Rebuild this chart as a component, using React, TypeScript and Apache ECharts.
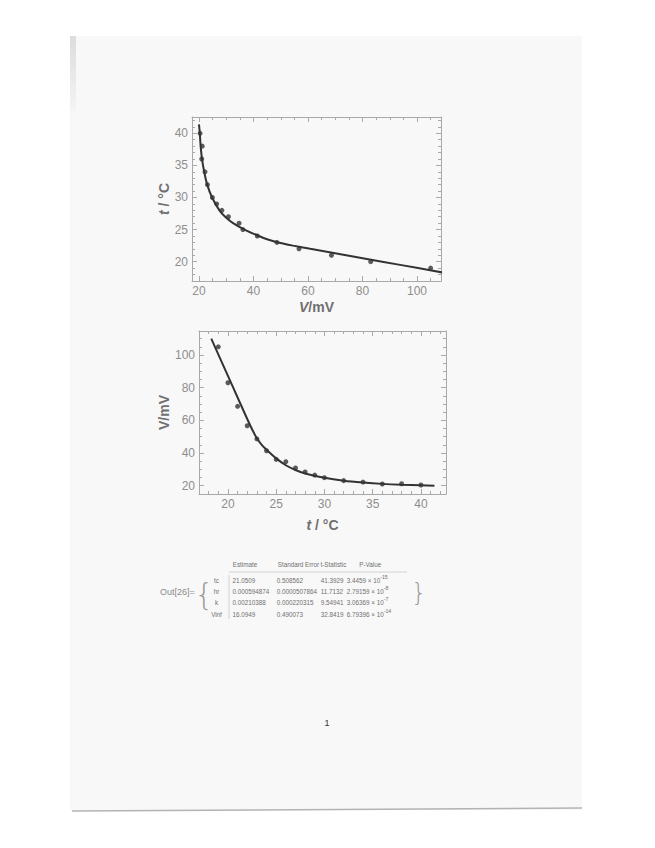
import { useEffect, useRef } from "react";
import * as echarts from "echarts";

// ---- measured data (t in °C, V in mV) ----
const tempC = [19, 20, 21, 22, 23, 24, 25, 26, 27, 28, 29, 30, 32, 34, 36, 38, 40];
const voltMV = [105, 83, 68.6, 56.7, 48.6, 41.4, 36.1, 34.7, 30.8, 28.4, 26.5, 24.9, 23.1, 22.2, 21.0, 21.2, 20.4];

// ---- fitted curve ----
const fitTempC = [18.27, 19, 20, 21, 22, 22.5, 23, 23.5, 24, 25, 26, 27, 28, 30, 32, 34, 36, 38, 40, 41.4];
const fitVoltMV = [110, 100.4, 87.2, 74, 60.8, 54.5, 49, 45, 42, 36.7, 32.5, 29.6, 27.5, 24.8, 23, 21.9, 21.1, 20.6, 20.3, 20.0];

// ---- tick values ----
const p1XMajor = [20, 40, 60, 80, 100];
const p1XMinor = [25, 30, 35, 45, 50, 55, 65, 70, 75, 85, 90, 95, 105];
const p1YMajor = [20, 25, 30, 35, 40];
const p1YMinor = [18, 19, 21, 22, 23, 24, 26, 27, 28, 29, 31, 32, 33, 34, 36, 37, 38, 39, 41, 42];
const p2XMajor = [20, 25, 30, 35, 40];
const p2XMinor = [18, 19, 21, 22, 23, 24, 26, 27, 28, 29, 31, 32, 33, 34, 36, 37, 38, 39, 41, 42];
const p2YMajor = [20, 40, 60, 80, 100];
const p2YMinor = [25, 30, 35, 45, 50, 55, 65, 70, 75, 85, 90, 95, 105, 110];

// ---- fit table ----
const tableHeaders = ["Estimate", "Standard Error", "t-Statistic", "P-Value"];
const tableRows = ["tc", "hr", "k", "Vinf"];
const estimates = ["21.0509", "0.000594874", "0.00210388", "16.0949"];
const stdErrors = ["0.508562", "0.0000507864", "0.000220315", "0.490073"];
const tStats = ["41.3929", "11.7132", "9.54941", "32.8419"];
const pMantissa = ["3.4459", "2.79159", "3.06369", "6.79396"];
const pExponent = ["-15", "-8", "-7", "-14"];

const FONT = "Liberation Sans, Arial, sans-serif";
const FRAME = "#a9a9a9";
const TICKLBL = "#8e8e8e";
const NAMECLR = "#707070";
const INK = "#333333";
const TABLE_INK = "#707070";

function buildAxes(
  kind: "x" | "y",
  gridIndex: number,
  min: number,
  max: number,
  majors: number[],
  minors: number[],
  name: string,
  nameGap: number
) {
  const sides = kind === "x" ? ["bottom", "top"] : ["left", "right"];
  const out: any[] = [];
  sides.forEach((pos, si) => {
    [majors, minors].forEach((vals, mi) => {
      const main = si === 0 && mi === 0;
      out.push({
        type: "value",
        gridIndex,
        min,
        max,
        position: pos,
        axisLine: { show: mi === 0, onZero: false, lineStyle: { color: FRAME, width: 1 } },
        axisTick: {
          show: true,
          inside: true,
          length: mi === 0 ? 5 : 3,
          customValues: vals,
          lineStyle: { color: FRAME, width: 1 },
        },
        axisLabel: main
          ? { show: true, customValues: vals, color: TICKLBL, fontSize: 12, margin: 4, fontFamily: FONT }
          : { show: false },
        splitLine: { show: false },
        name: main ? name : "",
        nameLocation: "middle",
        nameGap,
        nameTextStyle: {
          color: NAMECLR,
          fontSize: 14,
          fontWeight: "bold",
          fontFamily: FONT,
          rich: {
            i: { fontStyle: "italic", fontWeight: "bold", fontSize: 14, color: NAMECLR, fontFamily: FONT },
            n: { fontWeight: "bold", fontSize: 14, color: NAMECLR, fontFamily: FONT },
          },
        },
      });
    });
  });
  return out;
}

export default function App() {
  const ref = useRef<HTMLDivElement>(null);

  useEffect(() => {
    if (!ref.current) return;
    const chart = echarts.init(ref.current, undefined, { renderer: "svg" });

    const xAxes = [
      ...buildAxes("x", 0, 17.43, 108.8, p1XMajor, p1XMinor, "{i|V}{n|/mV}", 19),
      ...buildAxes("x", 1, 17.0, 42.6, p2XMajor, p2XMinor, "{i|t}{n| / °C}", 24),
    ];
    const yAxes = [
      ...buildAxes("y", 0, 16.99, 42.54, p1YMajor, p1YMinor, "{i|t}{n| / °C}", 17),
      ...buildAxes("y", 1, 14.9, 114.7, p2YMajor, p2YMinor, "{n|V/mV}", 27),
    ];

    const rowY = (i: number) => 580 + i * 11.4;
    const colX = [232.5, 276.7, 320.7, 346.7];
    const tableStyle = { fill: TABLE_INK, fontSize: 6.3, fontFamily: FONT };
    const graphics: any[] = [
      // scanned sheet
      { type: "rect", z: -100, shape: { x: 70, y: 36, width: 512, height: 774 }, style: { fill: "#f8f8f8" }, silent: true },
      {
        type: "rect",
        z: -99,
        shape: { x: 70, y: 36, width: 6, height: 75 },
        style: {
          fill: new echarts.graphic.LinearGradient(0, 0, 0, 1, [
            { offset: 0, color: "#dcdcdc" },
            { offset: 1, color: "#f4f4f4" },
          ]),
        },
        silent: true,
      },
      { type: "line", z: -98, shape: { x1: 72, y1: 811, x2: 582, y2: 808 }, style: { stroke: "#b3b3b3", lineWidth: 1.5 } },
      // page number
      { type: "text", x: 327, y: 723, style: { text: "1", fill: "#333", fontSize: 9, fontFamily: FONT, textAlign: "center", textVerticalAlign: "middle" } },
      // Out[26]= and braces
      { type: "text", x: 160, y: 592, style: { text: "Out[26]=", fill: "#8a8a8a", fontSize: 9, fontFamily: FONT, textVerticalAlign: "middle" } },
      { type: "text", x: 204, y: 594, style: { text: "{", fill: "#9a9a9a", fontSize: 30, fontWeight: "lighter", fontFamily: "DejaVu Sans, sans-serif", textAlign: "center", textVerticalAlign: "middle" } },
      { type: "text", x: 419, y: 593, style: { text: "}", fill: "#9a9a9a", fontSize: 24, fontWeight: "lighter", fontFamily: "DejaVu Sans, sans-serif", textAlign: "center", textVerticalAlign: "middle" } },
      // header rule and vertical rule
      { type: "line", shape: { x1: 229, y1: 572, x2: 407, y2: 572 }, style: { stroke: "#c8c8c8", lineWidth: 0.8 } },
      { type: "line", shape: { x1: 229, y1: 575, x2: 229, y2: 619 }, style: { stroke: "#c8c8c8", lineWidth: 0.8 } },
    ];
    const headerX = [232.7, 277.7, 320.5, 359.3];
    tableHeaders.forEach((h, i) => {
      graphics.push({ type: "text", x: headerX[i], y: 564, style: { ...tableStyle, text: h, textVerticalAlign: "middle" } });
    });
    tableRows.forEach((r, i) => {
      graphics.push({ type: "text", x: 216.5, y: rowY(i), style: { ...tableStyle, text: r, textAlign: "center", textVerticalAlign: "middle" } });
      graphics.push({ type: "text", x: colX[0], y: rowY(i), style: { ...tableStyle, text: estimates[i], textVerticalAlign: "middle" } });
      graphics.push({ type: "text", x: colX[1], y: rowY(i), style: { ...tableStyle, text: stdErrors[i], textVerticalAlign: "middle" } });
      graphics.push({ type: "text", x: colX[2], y: rowY(i), style: { ...tableStyle, text: tStats[i], textVerticalAlign: "middle" } });
      graphics.push({
        type: "text",
        x: colX[3],
        y: rowY(i) - 1.5,
        style: {
          text: `{m|${pMantissa[i]} × 10}{e|${pExponent[i]}}`,
          textVerticalAlign: "middle",
          rich: {
            m: { fontSize: 6.3, lineHeight: 9, verticalAlign: "bottom", fill: TABLE_INK, fontFamily: FONT },
            e: { fontSize: 5.3, lineHeight: 9, verticalAlign: "top", fill: TABLE_INK, fontFamily: FONT },
          },
        },
      });
    });

    chart.setOption({
      animation: false,
      backgroundColor: "#ffffff",
      grid: [
        { left: 192, top: 117, width: 249, height: 164 },
        { left: 199, top: 331, width: 247, height: 163 },
      ],
      xAxis: xAxes,
      yAxis: yAxes,
      graphic: graphics,
      series: [
        {
          type: "line",
          xAxisIndex: 0,
          yAxisIndex: 0,
          data: fitVoltMV.map((v, i) => [v, fitTempC[i]]),
          showSymbol: false,
          smooth: 0.25,
          lineStyle: { color: INK, width: 2 },
          z: 3,
        },
        {
          type: "scatter",
          xAxisIndex: 0,
          yAxisIndex: 0,
          data: voltMV.map((v, i) => [v, tempC[i]]),
          symbolSize: 5,
          itemStyle: { color: INK },
          z: 4,
        },
        {
          type: "line",
          xAxisIndex: 4,
          yAxisIndex: 4,
          data: fitTempC.map((t, i) => [t, fitVoltMV[i]]),
          showSymbol: false,
          smooth: 0.25,
          lineStyle: { color: INK, width: 2 },
          z: 3,
        },
        {
          type: "scatter",
          xAxisIndex: 4,
          yAxisIndex: 4,
          data: tempC.map((t, i) => [t, voltMV[i]]),
          symbolSize: 5,
          itemStyle: { color: INK },
          z: 4,
        },
      ],
    });

    return () => chart.dispose();
  }, []);

  return <div ref={ref} style={{ position: "absolute", left: 0, top: 0, width: 655, height: 848 }} />;
}
